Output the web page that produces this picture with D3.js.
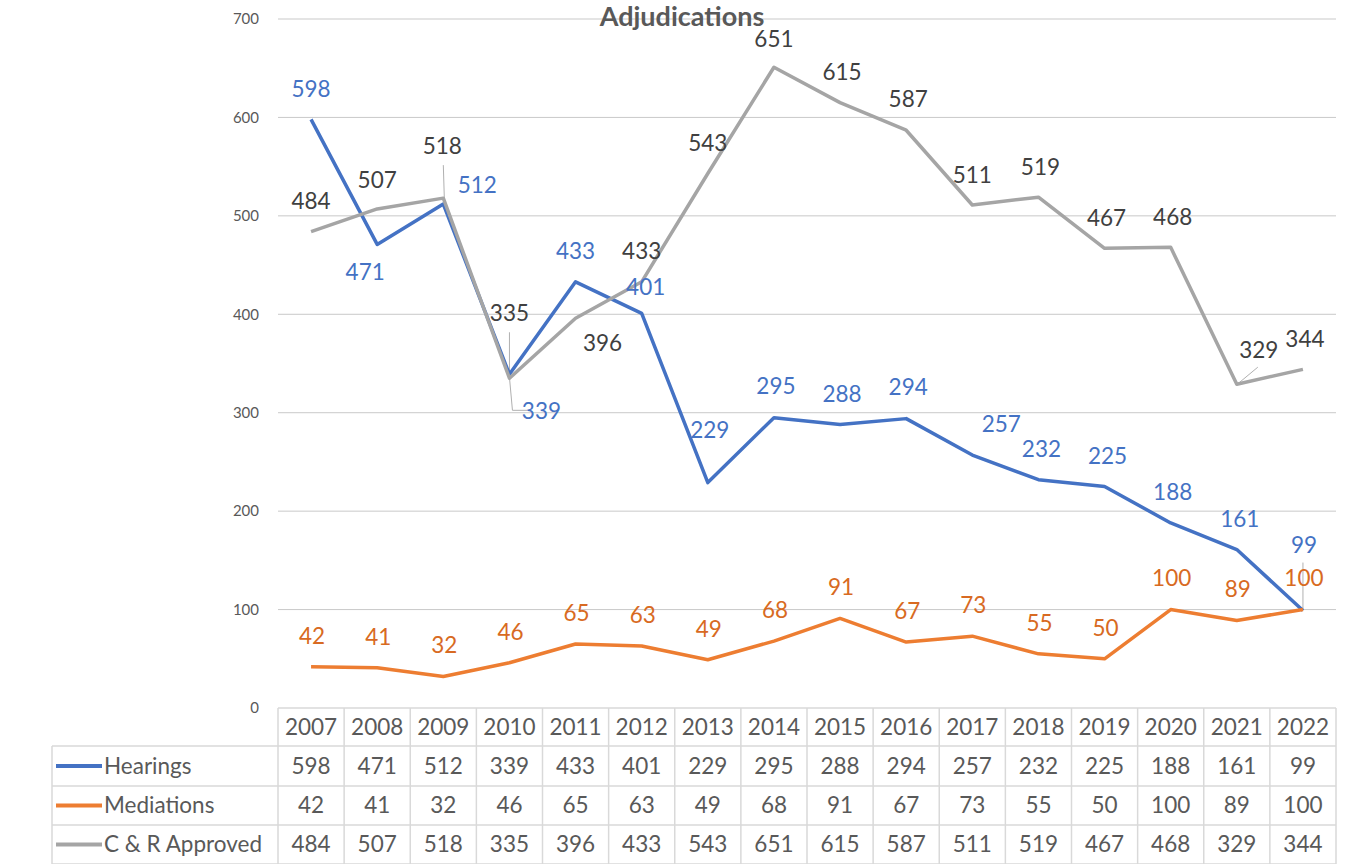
<!DOCTYPE html>
<html lang="en">
<head>
    <meta charset="UTF-8">
    <title>Adjudications</title>
    <script src="https://d3js.org/d3.v7.min.js"></script>
    <style>
        body { margin: 0; background: #fff; }
        text { font-family: Lato, "Open Sans", sans-serif; }
    </style>
</head>
<body>
<div id="chart"></div>
<script>
    // data
    const years = ["2007", "2008", "2009", "2010", "2011", "2012", "2013", "2014",
        "2015", "2016", "2017", "2018", "2019", "2020", "2021", "2022"];
    const hearings = [598, 471, 512, 339, 433, 401, 229, 295, 288, 294, 257, 232, 225, 188, 161, 99];
    const mediations = [42, 41, 32, 46, 65, 63, 49, 68, 91, 67, 73, 55, 50, 100, 89, 100];
    const approved = [484, 507, 518, 335, 396, 433, 543, 651, 615, 587, 511, 519, 467, 468, 329, 344];
    const yTicks = [0, 100, 200, 300, 400, 500, 600, 700];

    // label offsets from each point (Excel moved a few by hand)
    const hearingsLabelPos = [[0,-30],[-12,28],[34,-19],[32,37],[0,-31],[4,-26],[2,-52],[2,-32],
        [2,-30],[2,-31],[29,-31],[3,-31],[3,-30],[2,-31],[3,-30],[1,-65]];
    const approvedLabelPos = [[0,-30],[0,-29],[-1,-52],[0,-65],[27,25],[0,-31],[0,-30],[0,-28],
        [2,-31],[2,-31],[0,-30],[2,-30],[2,-30],[2,-30],[22,-34],[2,-30]];

    const series = [
        { name: "Hearings", values: hearings, color: "#4472C4", labelColor: "#4472C4", pos: hearingsLabelPos },
        { name: "Mediations", values: mediations, color: "#ED7D31", labelColor: "#D86A22", pos: null },
        { name: "C & R Approved", values: approved, color: "#A5A5A5", labelColor: "#404040", pos: approvedLabelPos }
    ];

    const width = 1345, height = 864;
    const plot = { left: 278, right: 1336, top: 19, bottom: 708 };
    const table = { left: 52, rowH: [38, 40, 39, 39] };
    const fs = "22.5px";

    const svg = d3.select("#chart").append("svg")
        .attr("width", width)
        .attr("height", height);

    const x = d3.scaleBand()
        .domain(years)
        .range([plot.left, plot.right]);

    const y = d3.scaleLinear()
        .domain([0, 700])
        .range([plot.bottom, plot.top]);

    const cx = (i) => x(years[i]) + x.bandwidth() / 2;

    // gridlines
    svg.append("g")
        .selectAll("line")
        .data(yTicks.filter(d => d > 0))
        .join("line")
        .attr("x1", plot.left)
        .attr("x2", plot.right)
        .attr("y1", d => y(d))
        .attr("y2", d => y(d))
        .style("stroke", "#c9c9c9")
        .style("stroke-width", 1);

    // y tick labels
    svg.append("g")
        .selectAll("text")
        .data(yTicks)
        .join("text")
        .attr("x", 259)
        .attr("y", d => y(d))
        .attr("dy", "0.35em")
        .attr("text-anchor", "end")
        .style("font-size", "15px")
        .style("fill", "#595959")
        .text(d => d);

    // title
    svg.append("text")
        .attr("x", 682)
        .attr("y", 26)
        .attr("text-anchor", "middle")
        .style("font-size", "27px")
        .style("font-weight", "bold")
        .style("fill", "#595959")
        .text("Adjudications");

    // leader lines for a few moved labels
    const leaders = [
        [[cx(3), y(339) + 3], [cx(3) + 3, y(339) + 36], [cx(3) + 18, y(339) + 36]],
        [[cx(3), y(335) - 46], [cx(3), y(335)]],
        [[cx(2), y(518) - 33], [cx(2) + 1, y(518)]],
        [[cx(15), y(99) - 48], [cx(15), y(99)]],
        [[cx(14) + 21, y(329) - 17], [cx(14) + 3, y(329) - 2]]
    ];
    svg.append("g")
        .selectAll("path")
        .data(leaders)
        .join("path")
        .attr("d", d => d3.line()(d))
        .style("fill", "none")
        .style("stroke", "#b0b0b0")
        .style("stroke-width", 1);

    const line = d3.line()
        .x((d, i) => cx(i))
        .y(d => y(d));

    // draw order: hearings, mediations, approved on top
    svg.append("g")
        .selectAll("path")
        .data(series)
        .join("path")
        .attr("d", d => line(d.values))
        .style("fill", "none")
        .style("stroke", d => d.color)
        .style("stroke-width", 3.5)
        .style("stroke-linejoin", "round");

    // data labels
    series.forEach((s) => {
        svg.append("g")
            .selectAll("text")
            .data(s.values)
            .join("text")
            .attr("x", (d, i) => cx(i) + (s.pos ? s.pos[i][0] : 1))
            .attr("y", (d, i) => y(d) + (s.pos ? s.pos[i][1] : -31))
            .attr("dy", "0.35em")
            .attr("text-anchor", "middle")
            .style("font-size", fs)
            .style("fill", s.labelColor)
            .text(d => d);
    });

    // data table
    const rowTops = [plot.bottom];
    table.rowH.forEach((h, i) => rowTops.push(rowTops[i] + h));

    const grid = svg.append("g").style("stroke", "#d9d9d9").style("stroke-width", 1.5);
    // header row (years) only over plot columns
    grid.append("line").attr("x1", plot.left).attr("x2", plot.right)
        .attr("y1", rowTops[0]).attr("y2", rowTops[0]);
    rowTops.slice(1).forEach(t => {
        grid.append("line").attr("x1", table.left).attr("x2", plot.right)
            .attr("y1", t).attr("y2", t);
    });
    grid.append("line").attr("x1", table.left).attr("x2", table.left)
        .attr("y1", rowTops[1]).attr("y2", rowTops[4]);
    years.forEach((yr, i) => {
        grid.append("line").attr("x1", x(yr)).attr("x2", x(yr))
            .attr("y1", rowTops[0]).attr("y2", rowTops[4]);
    });
    grid.append("line").attr("x1", plot.right).attr("x2", plot.right)
        .attr("y1", rowTops[0]).attr("y2", rowTops[4]);

    const rowMid = (r) => (rowTops[r] + rowTops[r + 1]) / 2;

    svg.append("g")
        .selectAll("text")
        .data(years)
        .join("text")
        .attr("x", (d, i) => cx(i))
        .attr("y", rowMid(0))
        .attr("dy", "0.35em")
        .attr("text-anchor", "middle")
        .style("font-size", fs)
        .style("fill", "#595959")
        .text(d => d);

    series.forEach((s, r) => {
        const g = svg.append("g");
        g.append("line")
            .attr("x1", 56).attr("x2", 102)
            .attr("y1", rowMid(r + 1)).attr("y2", rowMid(r + 1))
            .style("stroke", s.color)
            .style("stroke-width", 4);
        g.append("text")
            .attr("x", 104)
            .attr("y", rowMid(r + 1))
            .attr("dy", "0.35em")
            .style("font-size", fs)
            .style("fill", "#595959")
            .text(s.name);
        g.selectAll("text.v")
            .data(s.values)
            .join("text")
            .attr("class", "v")
            .attr("x", (d, i) => cx(i))
            .attr("y", rowMid(r + 1))
            .attr("dy", "0.35em")
            .attr("text-anchor", "middle")
            .style("font-size", fs)
            .style("fill", "#595959")
            .text(d => d);
    });
</script>
</body>
</html>
